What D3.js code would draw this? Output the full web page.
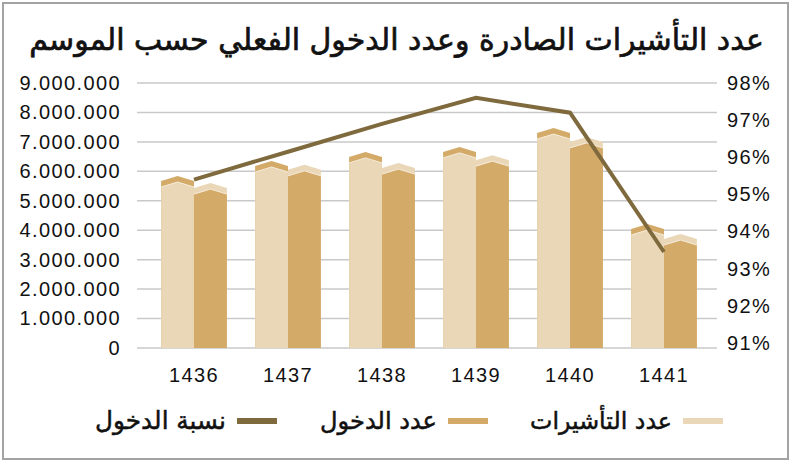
<!DOCTYPE html>
<html>
<head>
<meta charset="utf-8">
<script src="https://cdn.jsdelivr.net/npm/d3@7"></script>
<style>
  body { margin: 0; background: #fff; }
  svg { display: block; }
</style>
</head>
<body>
<div id="chart"></div>
<script>
// data
var seasons = ['1436', '1437', '1438', '1439', '1440', '1441']
var visas = [5840000, 6350000, 6660000, 6830000, 7470000, 4210000]     // عدد التأشيرات
var entries = [5600000, 6220000, 6280000, 6550000, 7170000, 3870000]   // عدد الدخول
var entryRate = [95.4, 96.15, 96.9, 97.6, 97.2, 93.45]                  // نسبة الدخول
var leftTicks = [0, 1e6, 2e6, 3e6, 4e6, 5e6, 6e6, 7e6, 8e6, 9e6]
var rightTicks = [91, 92, 93, 94, 95, 96, 97, 98]

var title = 'عدد التأشيرات الصادرة وعدد الدخول الفعلي حسب الموسم'
var legendNames = ['عدد التأشيرات', 'عدد الدخول', 'نسبة الدخول']

var W = 793, H = 462
var light = '#ead7b8', tan = '#d3aa68', dark = '#7f6a3e'
var latin = '"Liberation Sans", Arial, sans-serif'
var arabic = '"DejaVu Sans", sans-serif'

var svg = d3.select('#chart').append('svg')
  .attr('width', W).attr('height', H)

// frame
svg.append('rect')
  .attr('x', 3).attr('y', 3).attr('width', 785).attr('height', 456)
  .attr('fill', '#fff').attr('stroke', '#a3a3a3').attr('stroke-width', 2)

// scales
var x = d3.scaleBand().domain(seasons).range([139, 719])
  .paddingInner(0.3).paddingOuter(0.235)
var y = d3.scaleLinear().domain([0, 9e6]).range([348, 83])
var yR = d3.scaleLinear().domain([91, 98]).range([343, 83])

var loc = d3.formatLocale({ decimal: ',', thousands: '.', grouping: [3], currency: ['', ''] })
var fmt = loc.format(',d')

function styleTicks (g) {
  g.select('.domain').remove()
  g.selectAll('text').attr('font-family', latin).attr('font-size', 20)
    .attr('letter-spacing', 1.4).attr('fill', '#111')
}

// grid lines
svg.append('g').selectAll('line').data(leftTicks).enter().append('line')
  .attr('x1', 137).attr('x2', 717)
  .attr('y1', d => y(d)).attr('y2', d => y(d))
  .attr('stroke', '#c9c9c9').attr('stroke-width', 1.5)

// left axis
var ax = svg.append('g').attr('transform', 'translate(138,0)')
  .call(d3.axisLeft(y).tickValues(leftTicks).tickFormat(fmt).tickSize(0).tickPadding(17))
styleTicks(ax)

// right axis
var axR = svg.append('g').attr('transform', 'translate(717,0)')
  .call(d3.axisRight(yR).tickValues(rightTicks).tickFormat(d => d + '%').tickSize(0).tickPadding(10))
styleTicks(axR)

// category axis
var axB = svg.append('g').attr('transform', 'translate(0,364)')
  .call(d3.axisBottom(x).tickSize(0).tickPadding(4))
styleTicks(axB)

// bars with a chevron cap
var bw = x.bandwidth() / 2
function barPath (x0, top, base, w) {
  return 'M' + x0 + ',' + (top + 5) + 'L' + (x0 + w / 2) + ',' + top + 'L' + (x0 + w) + ',' + (top + 5) +
    'L' + (x0 + w) + ',' + base + 'L' + x0 + ',' + base + 'Z'
}
function drawBars (vals, offset, face, cap) {
  var g = svg.append('g')
  var sel = g.selectAll('g').data(vals).enter().append('g')
  sel.append('path')
    .attr('d', (d, i) => barPath(x(seasons[i]) + offset, y(d), y(0), bw))
    .attr('fill', cap)
  sel.append('path')
    .attr('d', (d, i) => barPath(x(seasons[i]) + offset, y(d) + 6, y(0), bw))
    .attr('fill', face)
  sel.append('path')
    .attr('d', (d, i) => {
      var x0 = x(seasons[i]) + offset, t = y(d) + 6
      return 'M' + x0 + ',' + (t + 5) + 'L' + (x0 + bw / 2) + ',' + t + 'L' + (x0 + bw) + ',' + (t + 5)
    })
    .attr('fill', 'none').attr('stroke', '#f6ecdc').attr('stroke-width', 1)
}
drawBars(visas, 0, light, tan)
drawBars(entries, bw, tan, light)

// entry rate line
var line = d3.line()
  .x((d, i) => x(seasons[i]) + x.bandwidth() / 2)
  .y(d => yR(d))
svg.append('path').datum(entryRate)
  .attr('d', line)
  .attr('fill', 'none').attr('stroke', dark).attr('stroke-width', 4)

// title, fitted to the reference width
var t = svg.append('text')
  .attr('x', W / 2).attr('y', 50)
  .attr('text-anchor', 'middle').attr('direction', 'rtl')
  .attr('font-family', arabic).attr('font-size', 26)
  .attr('fill', '#111').attr('stroke', '#111').attr('stroke-width', 0.7)
  .text(title)
var tw = t.node().getComputedTextLength()
t.attr('font-size', 26 * 735 / tw)

// legend (right to left)
var legend = [
  { name: legendNames[0], color: light, sx: 683, tx: 672, tw: 142 },
  { name: legendNames[1], color: tan, sx: 448, tx: 437, tw: 117 },
  { name: legendNames[2], color: dark, sx: 237, tx: 226, tw: 131 }
]
var lg = svg.append('g')
lg.selectAll('rect').data(legend).enter().append('rect')
  .attr('x', d => d.sx).attr('y', 418).attr('width', 40).attr('height', 6)
  .attr('fill', d => d.color)
lg.selectAll('text').data(legend).enter().append('text')
  .attr('x', d => d.tx).attr('y', 429)
  .attr('text-anchor', 'end')
  .attr('font-family', arabic).attr('font-size', 19)
  .attr('fill', '#111').attr('stroke', '#111').attr('stroke-width', 0.5)
  .text(d => d.name)
  .each(function (d) {
    var w = this.getComputedTextLength()
    d3.select(this).attr('font-size', 19 * d.tw / w)
  })
</script>
</body>
</html>
